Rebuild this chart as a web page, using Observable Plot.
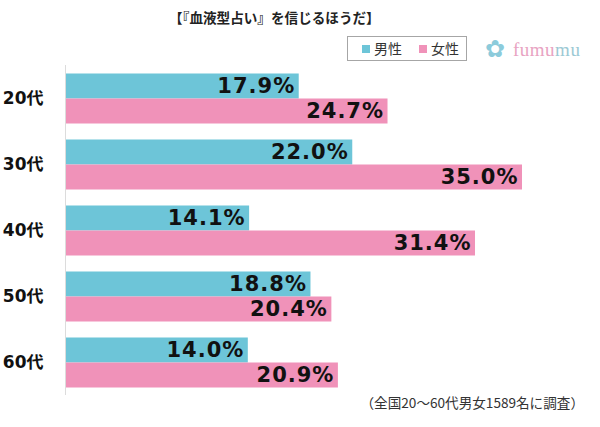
<!DOCTYPE html>
<html>
<head>
<meta charset="utf-8">
<script src="https://cdn.jsdelivr.net/npm/d3@7"></script>
<script src="https://cdn.jsdelivr.net/npm/@observablehq/plot@0.6"></script>
<style>
  html, body { margin: 0; padding: 0; background: #fff; }
  body { width: 600px; height: 427px; position: relative; overflow: hidden;
         font-family: "Noto Sans CJK JP", "DejaVu Sans", sans-serif; color: #222; }
  #header { position: relative; height: 63px; }
  #title { position: absolute; left: 169px; top: 7px; font-size: 13.6px; font-weight: bold; white-space: nowrap; }
  #legend { position: absolute; left: 347px; top: 36px; width: 118px; height: 23px;
            border: 1px solid #a6a6a6; font-size: 14px; color: #333; }
  .li { position: absolute; top: 2px; white-space: nowrap; line-height: 19px; }
  .sw { display: inline-block; width: 8px; height: 8px; margin-right: 4px; vertical-align: 1px; }
  #logo { position: absolute; left: 485px; top: 35px; white-space: nowrap; }
  #flower { position: absolute; left: 0; top: 0; font-size: 24px; color: #8ccbdb; font-family: "DejaVu Sans"; line-height: 28px; }
  #brand { position: absolute; left: 28px; top: 3px; font-family: "Liberation Serif", serif; font-size: 19px; line-height: 24px; letter-spacing: 0.5px; }
  #chart { position: relative; }
  #caption { position: absolute; right: 16px; top: 392px; font-size: 13.6px; color: #333; white-space: nowrap; }
</style>
</head>
<body>
<div id="header">
  <div id="title">【『血液型占い』を信じるほうだ】</div>
  <div id="legend"></div>
  <div id="logo"><span id="flower">✿</span><span id="brand"><span style="color:#e8a3c2">fumu</span><span style="color:#9cc9d4">mu</span></span></div>
</div>
<div id="chart"></div>
<div id="caption">（全国20～60代男女1589名に調査）</div>
<script>
const ages = ["20代", "30代", "40代", "50代", "60代"];
const genders = ["男性", "女性"];
const male = [17.9, 22.0, 14.1, 18.8, 14.0];
const female = [24.7, 35.0, 31.4, 20.4, 20.9];
const colors = ["#6dc5d8", "#f092b9"];

const rows = [];
ages.forEach((a, i) => {
  rows.push({age: a, gender: genders[0], value: male[i]});
  rows.push({age: a, gender: genders[1], value: female[i]});
});

// legend
const legend = document.getElementById("legend");
genders.forEach((g, i) => {
  const d = document.createElement("div");
  d.className = "li";
  d.style.left = (i === 0 ? 14 : 71) + "px";
  d.innerHTML = `<span class="sw" style="background:${colors[i]}"></span>${g}`;
  legend.appendChild(d);
});

const chart = Plot.plot({
  width: 600,
  height: 331.5,
  marginTop: 1.5,
  marginBottom: 0,
  marginLeft: 65,
  marginRight: 78,
  x: {domain: [0, 35], axis: null},
  y: {domain: genders, paddingInner: 0, paddingOuter: 0.294, axis: null},
  fy: {domain: ages, padding: 0, label: null, tickSize: 0, tickPadding: 22},
  color: {domain: genders, range: colors},
  style: {fontFamily: "'DejaVu Sans', 'Noto Sans CJK JP', sans-serif"},
  marks: [
    Plot.barX(rows, {fy: "age", y: "gender", x: "value", fill: "gender"}),
    Plot.ruleX([0], {stroke: "#dcdcdc", strokeWidth: 1}),
    Plot.text(rows, {
      fy: "age", y: "gender", x: "value",
      text: d => d.value.toFixed(1) + "%",
      textAnchor: "end", dx: -4,
      fontSize: 21, fontWeight: "bold", fill: "#111"
    }),
    Plot.axisFy({tickSize: 0, tickPadding: 22, fontSize: 17, fontWeight: "bold", label: null, anchor: "left"})
  ]
});
document.getElementById("chart").appendChild(chart);
d3.select(chart).selectAll('g[aria-label="text"] text').style("letter-spacing", "1px");
d3.select(chart).selectAll('g[aria-label="fy-axis tick label"] text, g[aria-label="fy-axis tick label"]').style("fill", "#111");
</script>
</body>
</html>
